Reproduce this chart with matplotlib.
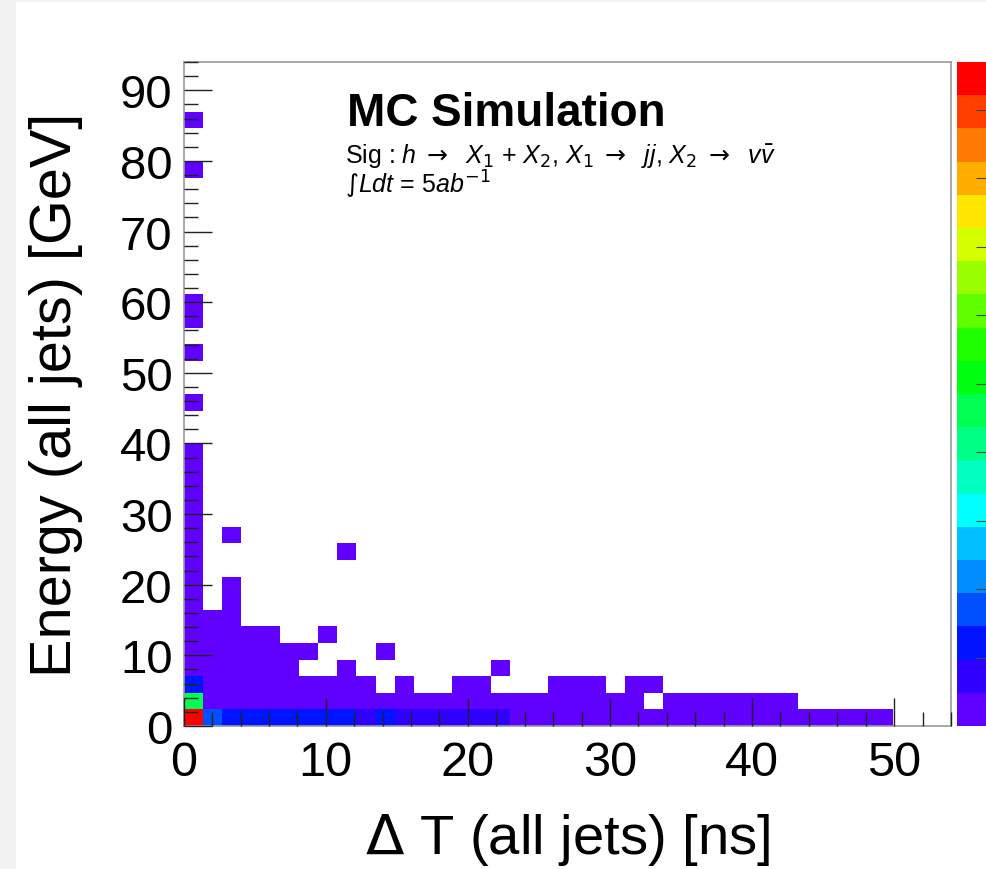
import numpy as np
import matplotlib.pyplot as plt
from matplotlib.colors import ListedColormap, BoundaryNorm
from matplotlib.patches import Rectangle
from matplotlib.ticker import MultipleLocator

plt.rcParams['font.family'] = ['Liberation Sans', 'DejaVu Sans']
plt.rcParams['mathtext.fontset'] = 'custom'
plt.rcParams['mathtext.rm'] = 'DejaVu Sans'
plt.rcParams['mathtext.it'] = 'Liberation Sans:italic'
plt.rcParams['mathtext.bf'] = 'Liberation Sans:bold'

# --- binning of the 2D histogram ---
n_bins_x, x_max = 40, 54.0
n_bins_y, y_max = 40, 94.0

# --- bin contents: one list per energy row (lowest row first), starting at dT bin 0 ---
rows = [
    [970, 170, 125, 118, 112, 108, 104, 101, 98, 72, 99, 88, 80, 76, 70, 64, 58, 45, 41,
     38, 35, 33, 30, 28, 26, 24, 22, 20, 18, 17, 15, 14, 12, 11, 10, 9, 8],
    [460, 40, 36, 33, 30, 27, 25, 22, 20, 18, 16, 15, 13, 12, 11, 10, 9, 8, 8,
     7, 6, 6, 5, 4, 0, 4, 3, 3, 3, 2, 2, 2],
    [125, 30, 26, 22, 19, 16, 13, 10, 8, 6, 0, 5, 0, 0, 4, 3, 0, 0, 0,
     3, 2, 2, 0, 2, 1],
    [44, 22, 18, 14, 11, 8, 0, 0, 4, 0, 0, 0, 0, 0, 0, 0, 2],
    [40, 16, 13, 10, 8, 6, 4, 0, 0, 0, 2],
    [36, 12, 9, 7, 5, 0, 0, 2],
    [32, 8, 6],
    [28, 0, 4],
    [25, 0, 3],
    [22],
    [19, 0, 0, 0, 0, 0, 0, 0, 1],
    [16, 0, 2],
    [13], [11], [9], [7], [5],
    [], [],
    [3],
    [], [],
    [2],
    [],
    [2], [3],
    [], [], [], [], [], [], [],
    [1],
    [], [],
    [1],
]

# ROOT rainbow palette, 20 contour levels (lowest first)
palette = ['#6000ff', '#3000ff', '#0014ff', '#0050ff', '#008cff', '#00c0ff', '#00ffff',
           '#00ffc0', '#00ff85', '#00ff50', '#00ff10', '#20ff00', '#60ff00', '#9aff00',
           '#d6ff00', '#ffe600', '#ffae00', '#ff7a00', '#ff3e00', '#ff0000']
z_ticks = [100, 200, 300, 400, 500, 600, 700, 800, 900]

counts = np.zeros((n_bins_y, n_bins_x))
for j, r in enumerate(rows):
    counts[j, :len(r)] = r
x_edges = np.linspace(0, x_max, n_bins_x + 1)
y_edges = np.linspace(0, y_max, n_bins_y + 1)

W, H = 987, 870
fig = plt.figure(figsize=(W / 100, H / 100), dpi=100, facecolor='#f2f2f2')
fig.patches.append(Rectangle((16 / W, 0), 1, 1 - 3 / H, transform=fig.transFigure,
                             facecolor='white', edgecolor='none', zorder=-10))

def fx(x):
    return x / W

def fy(y):
    return 1 - y / H

ax = fig.add_axes([fx(183.7), fy(727), fx(951) - fx(183.7), fy(63) - fy(727)])
cmap = ListedColormap(palette)
levels = np.linspace(0, counts.max(), len(palette) + 1)
norm = BoundaryNorm(levels, cmap.N)
mesh = ax.pcolormesh(x_edges, y_edges, np.ma.masked_equal(counts, 0), cmap=cmap, norm=norm)

ax.set_xlim(0, x_max)
ax.set_ylim(0, y_max)
ax.xaxis.set_major_locator(MultipleLocator(10))
ax.xaxis.set_minor_locator(MultipleLocator(2))
ax.yaxis.set_major_locator(MultipleLocator(10))
ax.yaxis.set_minor_locator(MultipleLocator(2))
ax.tick_params(which='both', direction='in', top=False, right=False, color='#222222', width=1)
ax.tick_params(which='major', length=20)
ax.tick_params(which='minor', length=10)
ax.tick_params(axis='x', labelsize=35, pad=10)
ax.tick_params(axis='y', labelsize=34, pad=8)
for s in ax.spines.values():
    s.set_color('#999999')
    s.set_linewidth(1.2)
ax.set_axisbelow(False)

# axis titles
fig.text(fx(568), fy(854), r'$\Delta$ T (all jets) [ns]', fontsize=40.5, ha='center', va='baseline')
fig.text(fx(56), fy(395), 'Energy (all jets) [GeV]', fontsize=41.5, rotation=90,
         ha='center', va='center')

# labels inside the frame
fig.text(fx(347), fy(126), 'MC Simulation', fontsize=33, fontweight='bold', va='baseline')
fig.text(fx(345), fy(164),
         r'Sig : $h\ \rightarrow\ \ X_{1}$ + $X_{2}$, $X_{1}\ \rightarrow\ \ jj$, $X_{2}\ \rightarrow\ \ v\bar{v}$',
         fontsize=18, va='baseline')
fig.text(fx(345), fy(194), r'$\int Ldt$ = 5$ab^{-1}$', fontsize=18, va='baseline')

# colour scale (cut by the right edge, as in the original canvas)
cax = fig.add_axes([fx(957), fy(727), fx(33), fy(63) - fy(727)])
cb = fig.colorbar(mesh, cax=cax, ticks=z_ticks)
cb.outline.set_visible(False)
cax.tick_params(direction='in', length=10, color='#444444', labelright=False)

fig.savefig('out.png', dpi=100, facecolor=fig.get_facecolor())
